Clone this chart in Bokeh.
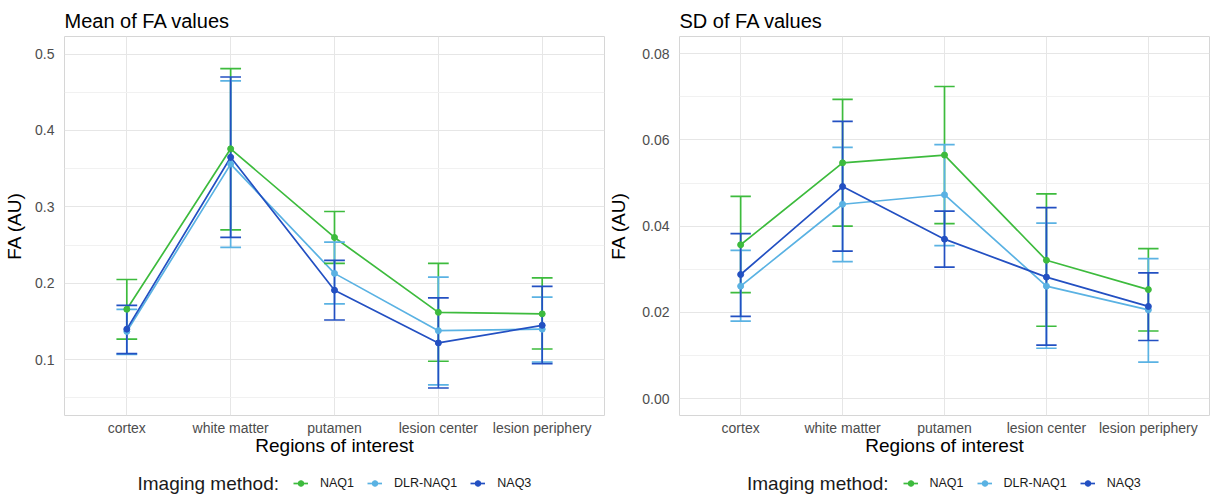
from bokeh.plotting import figure
from bokeh.models import Range1d, FixedTicker, Legend, LegendItem, PrintfTickFormatter, Label
from bokeh.layouts import row, column
from bokeh.embed import file_html
from bokeh.resources import INLINE

FONT = "Liberation Sans"

regions = ["cortex", "white matter", "putamen", "lesion center", "lesion periphery"]
methods = ["NAQ1", "DLR-NAQ1", "NAQ3"]
colors = ["#3dbb3d", "#5ab2e3", "#2350c2"]
legend_title = "Imaging method:"

# Mean of FA values (point, lower, upper)
mean_naq1 = [0.166, 0.376, 0.260, 0.162, 0.160]
mean_naq1_lo = [0.127, 0.270, 0.226, 0.098, 0.114]
mean_naq1_hi = [0.205, 0.481, 0.294, 0.226, 0.207]
mean_dlr = [0.137, 0.356, 0.213, 0.138, 0.140]
mean_dlr_lo = [0.107, 0.247, 0.173, 0.067, 0.097]
mean_dlr_hi = [0.166, 0.465, 0.254, 0.208, 0.182]
mean_naq3 = [0.140, 0.365, 0.191, 0.122, 0.145]
mean_naq3_lo = [0.108, 0.260, 0.152, 0.063, 0.095]
mean_naq3_hi = [0.171, 0.470, 0.230, 0.181, 0.196]

# SD of FA values (point, lower, upper)
sd_naq1 = [0.0357, 0.0547, 0.0565, 0.0321, 0.0253]
sd_naq1_lo = [0.0246, 0.0400, 0.0406, 0.0168, 0.0157]
sd_naq1_hi = [0.0469, 0.0694, 0.0724, 0.0475, 0.0348]
sd_dlr = [0.0261, 0.0451, 0.0473, 0.0261, 0.0206]
sd_dlr_lo = [0.0180, 0.0318, 0.0355, 0.0117, 0.0085]
sd_dlr_hi = [0.0344, 0.0583, 0.0589, 0.0407, 0.0325]
sd_naq3 = [0.0288, 0.0492, 0.0370, 0.0282, 0.0214]
sd_naq3_lo = [0.0191, 0.0342, 0.0305, 0.0124, 0.0135]
sd_naq3_hi = [0.0383, 0.0643, 0.0435, 0.0443, 0.0292]

mean_ticks = [0.1, 0.2, 0.3, 0.4, 0.5]
mean_minor = [0.05, 0.15, 0.25, 0.35, 0.45]
sd_ticks = [0.0, 0.02, 0.04, 0.06, 0.08]
sd_minor = [0.01, 0.03, 0.05, 0.07]

xs = [i + 1 for i in range(len(regions))]
CAP = 0.1
LEG_BLOCK = 394   # width of legend title + items
MAIN_H = 462
STRIP_H = 40


def make_panel(title, series, yr, ticks, minor, fmt, width, bl, br, ylab_standoff):
    p = figure(width=width, height=MAIN_H, output_backend="svg", toolbar_location=None,
               x_range=Range1d(0.4, 5.6), y_range=Range1d(*yr),
               min_border_left=bl, min_border_right=br, min_border_top=36,
               min_border_bottom=MAIN_H - 415, title=title)
    p.background_fill_color = "white"
    p.border_fill_color = "white"
    p.outline_line_color = "#d6d6d6"
    p.outline_line_width = 1

    p.title.text_font = FONT
    p.title.text_font_size = "20px"
    p.title.text_font_style = "normal"
    p.title.text_color = "#000000"
    p.title.offset = 0

    p.xaxis.ticker = FixedTicker(ticks=xs)
    p.xaxis.major_label_overrides = {x: r for x, r in zip(xs, regions)}
    p.yaxis.ticker = FixedTicker(ticks=ticks, minor_ticks=minor)
    p.yaxis.formatter = PrintfTickFormatter(format=fmt)
    for ax in (p.xaxis, p.yaxis):
        ax.axis_line_color = None
        ax.major_tick_line_color = None
        ax.minor_tick_line_color = None
        ax.major_tick_out = 0
        ax.major_tick_in = 0
        ax.major_label_text_font = FONT
        ax.major_label_text_font_size = "14px"
        ax.major_label_text_color = "#4d4d4d"
        ax.axis_label_text_font = FONT
        ax.axis_label_text_font_size = "19px"
        ax.axis_label_text_font_style = "normal"
        ax.axis_label_text_color = "#000000"
    p.xaxis.axis_label = "Regions of interest"
    p.yaxis.axis_label = "FA (AU)"
    p.xaxis.major_label_standoff = 4
    p.xaxis.axis_label_standoff = -4
    p.yaxis.major_label_standoff = 6
    p.yaxis.axis_label_standoff = ylab_standoff

    p.xgrid.ticker = FixedTicker(ticks=xs)
    p.xgrid.grid_line_color = "#e6e6e6"
    p.ygrid.grid_line_color = "#e6e6e6"
    p.ygrid.minor_grid_line_color = "#f1f1f1"

    for (y, lo, hi), c in zip(series, colors):
        p.line(xs, y, line_color=c, line_width=1.7)
    for (y, lo, hi), c in zip(series, colors):
        p.segment(x0=xs, y0=lo, x1=xs, y1=hi, line_color=c, line_width=1.7)
        p.segment(x0=[x - CAP for x in xs], y0=hi, x1=[x + CAP for x in xs], y1=hi,
                  line_color=c, line_width=1.7)
        p.segment(x0=[x - CAP for x in xs], y0=lo, x1=[x + CAP for x in xs], y1=lo,
                  line_color=c, line_width=1.7)
    for (y, lo, hi), c in zip(series, colors):
        p.scatter(xs, y, size=6, fill_color=c, line_color=c)
    return p


def make_legend_strip(width, bl, br):
    frame_w = width - bl - br
    s = figure(width=width, height=STRIP_H, output_backend="svg", toolbar_location=None,
               x_range=Range1d(0, frame_w), y_range=Range1d(0, STRIP_H),
               min_border_left=bl, min_border_right=br, min_border_top=0,
               min_border_bottom=0)
    s.axis.visible = False
    s.grid.visible = False
    s.outline_line_color = None
    s.background_fill_color = "white"
    s.border_fill_color = "white"
    start = (frame_w - LEG_BLOCK) / 2
    s.add_layout(Label(x=start, y=STRIP_H - 21, text=legend_title,
                       text_font=FONT, text_font_size="19px", text_color="#1a1a1a",
                       text_baseline="middle", text_align="left"))
    items = []
    # invisible legend proxies (kept outside the visible range)
    for m, c in zip(methods, colors):
        lr = s.line(x=[-1e6, -1e6 + 1], y=[-1e6, -1e6], line_color=c, line_width=1.7)
        pr = s.scatter(x=[-1e6], y=[-1e6], size=6, fill_color=c, line_color=c)
        items.append(LegendItem(label=m, renderers=[lr, pr]))
    legend = Legend(items=items, orientation="horizontal",
                    location=(start + 156, STRIP_H - 21 - 7))
    legend.label_text_font = FONT
    legend.label_text_font_size = "12.5px"
    legend.label_text_color = "#1a1a1a"
    legend.glyph_width = 15
    legend.glyph_height = 14
    legend.label_height = 14
    legend.label_standoff = 12
    legend.spacing = 13
    legend.padding = 0
    legend.margin = 0
    legend.border_line_color = None
    legend.background_fill_alpha = 0
    s.add_layout(legend)
    return s


left = make_panel("Mean of FA values",
                  [(mean_naq1, mean_naq1_lo, mean_naq1_hi),
                   (mean_dlr, mean_dlr_lo, mean_dlr_hi),
                   (mean_naq3, mean_naq3_lo, mean_naq3_hi)],
                  (0.027, 0.523), mean_ticks, mean_minor, "%.1f", 605, 64, 1, 7)
right = make_panel("SD of FA values",
                   [(sd_naq1, sd_naq1_lo, sd_naq1_hi),
                    (sd_dlr, sd_dlr_lo, sd_dlr_hi),
                    (sd_naq3, sd_naq3_lo, sd_naq3_hi)],
                   (-0.0039, 0.084), sd_ticks, sd_minor, "%.2f", 608, 73, 4, 10)

layout = column(row(left, right),
                row(make_legend_strip(605, 64, 1), make_legend_strip(608, 73, 4)))
open("out.html", "w").write(file_html(layout, INLINE))
